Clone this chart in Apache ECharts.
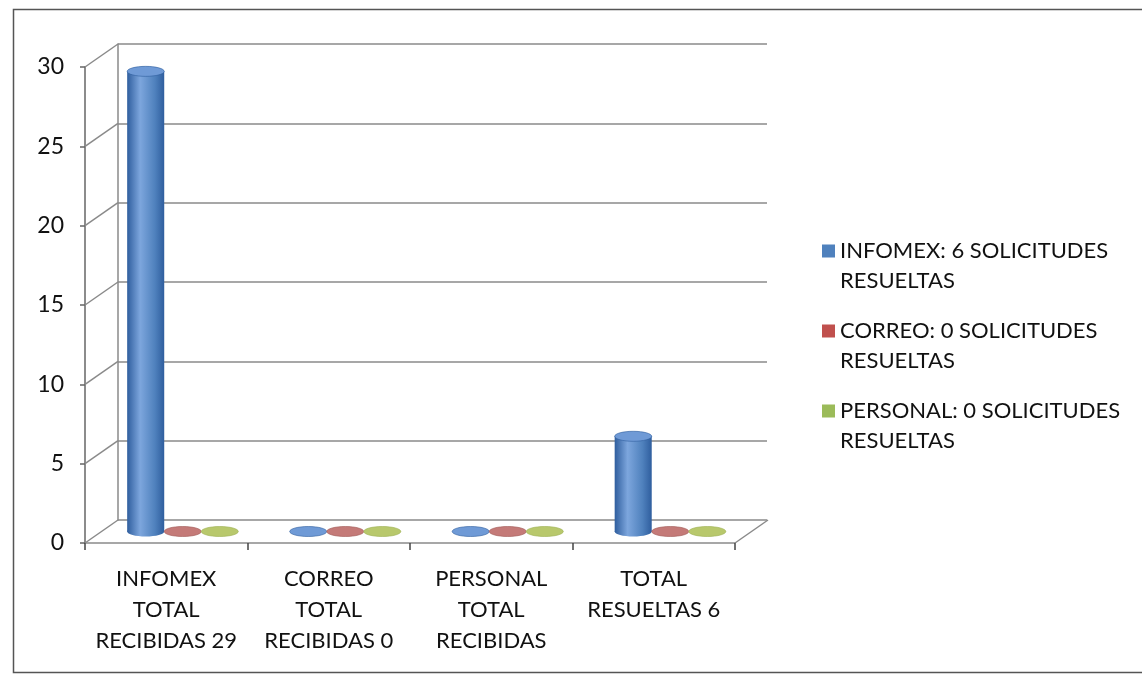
<!DOCTYPE html>
<html>
<head>
<meta charset="utf-8">
<script src="https://cdn.jsdelivr.net/npm/echarts@6/dist/echarts.min.js"></script>
<style>
  html, body { margin: 0; padding: 0; background: #fff; }
  #chart { width: 1142px; height: 675px; }
</style>
</head>
<body>
<div id="chart"></div>
<script>
const categories = ['INFOMEX\nTOTAL\nRECIBIDAS 29', 'CORREO\nTOTAL\nRECIBIDAS 0', 'PERSONAL\nTOTAL\nRECIBIDAS', 'TOTAL\nRESUELTAS 6'];
const seriesNames = ['INFOMEX: 6 SOLICITUDES\nRESUELTAS', 'CORREO: 0 SOLICITUDES\nRESUELTAS', 'PERSONAL: 0 SOLICITUDES\nRESUELTAS'];
const infomexValues = [29, 0, 0, 6];
const correoValues = [0, 0, 0, 0];
const personalValues = [0, 0, 0, 0];
const yTicks = [0, 5, 10, 15, 20, 25, 30];

const seriesValues = [infomexValues, correoValues, personalValues];
const colors = [
  { base: '#4F81BD', light: '#7DA6DD', dark: '#2F5E9E', top: '#6F9AD6' },
  { base: '#C0504D', light: '#D08886', dark: '#9E5552', top: '#C47A78' },
  { base: '#9BBB59', light: '#C5D27E', dark: '#9BAF4F', top: '#B8C86C' }
];

const DX = 33, DY = -23;        // depth offset of back wall
const FONT = 'Lato, "Open Sans", sans-serif';

function cylRender(sIdx) {
  return function (params, api) {
    const i = api.value(0), v = api.value(1);
    const base = api.coord([i, 0]);
    const top = api.coord([i, v]);
    const catW = api.size([1, 0])[0];
    const bw = catW * 0.228;
    const cx = base[0] + (sIdx - 1) * bw + DX / 2;
    const y0 = base[1] + DY / 2;
    const y1 = top[1] + DY / 2;
    const rx = bw / 2, ry = 5;
    const c = colors[sIdx];
    const grad = new echarts.graphic.LinearGradient(0, 0, 1, 0, [
      { offset: 0, color: c.dark },
      { offset: 0.35, color: c.light },
      { offset: 0.75, color: c.base },
      { offset: 1, color: c.dark }
    ]);
    const children = [];
    if (y0 - y1 > 0.5) {
      children.push({ type: 'ellipse', shape: { cx: cx, cy: y0, rx: rx, ry: ry }, style: { fill: grad } });
      children.push({ type: 'rect', shape: { x: cx - rx, y: y1, width: bw, height: y0 - y1 }, style: { fill: grad } });
    }
    children.push({ type: 'ellipse', shape: { cx: cx, cy: y1, rx: rx, ry: ry }, style: { fill: c.top, stroke: c.dark, lineWidth: 0.6 } });
    return { type: 'group', children: children };
  };
}

const barSeries = seriesNames.map(function (name, s) {
  return {
    name: name,
    type: 'custom',
    xAxisIndex: 0,
    yAxisIndex: 0,
    clip: false,
    z: 5,
    itemStyle: { color: colors[s].base },
    renderItem: cylRender(s),
    data: seriesValues[s].map(function (v, i) { return [i, v]; })
  };
});

// depth connectors from the front axis to the back wall
const connectorSeries = {
  type: 'custom',
  xAxisIndex: 0,
  yAxisIndex: 0,
  clip: false,
  silent: true,
  z: 1,
  renderItem: function (params, api) {
    const v = api.value(0);
    const p = api.coord([0, v]);
    const left = params.coordSys.x;
    const right = params.coordSys.x + params.coordSys.width;
    const kids = [{ type: 'line', shape: { x1: left, y1: p[1], x2: left + DX, y2: p[1] + DY }, style: { stroke: '#8a8a8a', lineWidth: 1.5 } }];
    if (v === 0) {
      kids.push({ type: 'line', shape: { x1: right, y1: p[1], x2: right + DX, y2: p[1] + DY }, style: { stroke: '#8a8a8a', lineWidth: 1.5 } });
    }
    return { type: 'group', children: kids };
  },
  data: yTicks.map(function (t) { return [t]; })
};

const chart = echarts.init(document.getElementById('chart'));
chart.setOption({
  backgroundColor: '#fff',
  animation: false,
  textStyle: { fontFamily: FONT },
  graphic: [{
    type: 'rect', left: 11, top: 7,
    shape: { width: 1160, height: 663 },
    style: { fill: 'none', stroke: '#555', lineWidth: 1.5 }
  }],
  legend: {
    orient: 'vertical',
    left: 817,
    top: 201,
    itemGap: -10,
    itemWidth: 13,
    itemHeight: 13,
    icon: 'rect',
    data: seriesNames,
    formatter: function (name) { return '\n' + name; },
    textStyle: { fontFamily: FONT, fontSize: 22, color: '#111', lineHeight: 30 }
  },
  grid: [
    { left: 85, right: 407, top: 67, bottom: 132 },
    { left: 118, right: 375, top: 44, bottom: 155 }
  ],
  xAxis: [
    {
      type: 'category', gridIndex: 0, data: categories,
      axisLine: { show: true, lineStyle: { color: '#8a8a8a', width: 1.5 } },
      axisTick: { show: true, length: 7, lineStyle: { color: '#444', width: 1.5 } },
      axisLabel: { margin: 20, fontSize: 22, lineHeight: 31, color: '#111', fontFamily: FONT, interval: 0 },
      splitLine: { show: false }
    },
    {
      type: 'category', gridIndex: 1, data: categories, show: false
    }
  ],
  yAxis: [
    {
      type: 'value', gridIndex: 0, min: 0, max: 30, interval: 5,
      axisLine: { show: true, lineStyle: { color: '#666', width: 1.5 } },
      axisTick: { show: true, length: 5, lineStyle: { color: '#666', width: 1.5 } },
      axisLabel: { margin: 21, fontSize: 23, color: '#111', fontFamily: FONT },
      splitLine: { show: false }
    },
    {
      type: 'value', gridIndex: 1, min: 0, max: 30, interval: 5,
      axisLine: { show: true, lineStyle: { color: '#8a8a8a', width: 1.5 } },
      axisTick: { show: false },
      axisLabel: { show: false },
      splitLine: { show: true, lineStyle: { color: '#8a8a8a', width: 1.5 } }
    }
  ],
  series: [connectorSeries].concat(barSeries)
});
</script>
</body>
</html>
